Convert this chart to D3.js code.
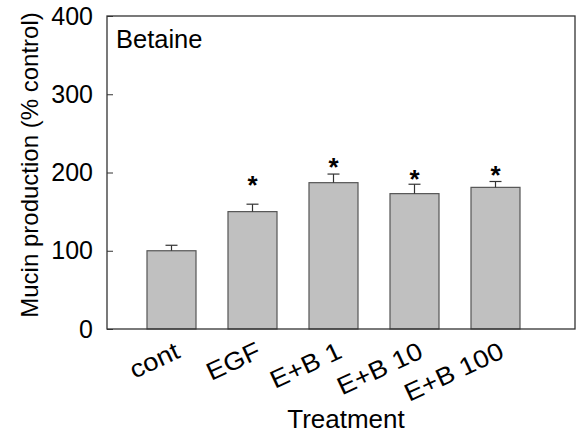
<!DOCTYPE html>
<html>
<head>
<meta charset="utf-8">
<script src="https://cdn.jsdelivr.net/npm/d3@7"></script>
<style>
  body { margin: 0; background: #fff; }
  svg { display: block; font-family: "Liberation Sans", Arial, sans-serif; }
</style>
</head>
<body>
<div id="chart"></div>
<script>
// values
const categories = ["cont", "EGF", "E+B 1", "E+B 10", "E+B 100"]
const means = [100, 150, 187, 173, 181]
const errors = [7, 9.5, 11, 12, 7.5]
// height (in % control) where each significance star sits, null = no star
const starLevels = [null, 189, 212, 197, 202]
const yTicks = [0, 100, 200, 300, 400]

const width = 576
const height = 435
const frame = { left: 107, right: 575, top: 16, bottom: 329 }
const fontFamily = "Liberation Sans, Arial, sans-serif"

const svg = d3.select("#chart").append("svg")
    .attr("width", width)
    .attr("height", height)

const xScale = d3.scaleBand()
    .domain(categories)
    .range([131, 536])
    .paddingInner(0.395)
    .paddingOuter(0.1975)

const yScale = d3.scaleLinear()
    .domain([0, 400])
    .range([frame.bottom, frame.top])

const center = d => xScale(d) + xScale.bandwidth() / 2

// bars
svg.append("g")
  .selectAll("rect")
  .data(categories)
  .join("rect")
    .attr("x", d => xScale(d))
    .attr("y", (d, i) => yScale(means[i]))
    .attr("width", xScale.bandwidth())
    .attr("height", (d, i) => yScale(0) - yScale(means[i]))
    .attr("fill", "#c0c0c0")
    .attr("stroke", "#555")
    .attr("stroke-width", 1.2)

// upper error bars
const errG = svg.append("g")
    .attr("stroke", "#333")
    .attr("stroke-width", 1.2)
categories.forEach((c, i) => {
  const cx = center(c)
  const top = yScale(means[i] + errors[i])
  errG.append("line")
      .attr("x1", cx).attr("x2", cx)
      .attr("y1", yScale(means[i])).attr("y2", top)
  errG.append("line")
      .attr("x1", cx - 6).attr("x2", cx + 6)
      .attr("y1", top).attr("y2", top)
})

// significance stars (glyph centre ~13px above baseline)
svg.append("g")
  .selectAll("text")
  .data(categories.filter((c, i) => starLevels[i] !== null))
  .join("text")
    .attr("x", d => center(d))
    .attr("y", d => yScale(starLevels[categories.indexOf(d)]) + 13)
    .attr("text-anchor", "middle")
    .attr("font-size", 26)
    .attr("font-weight", "bold")
    .attr("fill", "#000")
    .text("*")

// frame
svg.append("rect")
    .attr("x", frame.left)
    .attr("y", frame.top)
    .attr("width", frame.right - frame.left)
    .attr("height", frame.bottom - frame.top)
    .attr("fill", "none")
    .attr("stroke", "#333")
    .attr("stroke-width", 1.3)

// y axis, ticks pointing inward
const yAxis = svg.append("g")
    .attr("transform", `translate(${frame.left},0)`)
    .call(d3.axisLeft(yScale).tickValues(yTicks).tickSize(-6).tickPadding(14))
yAxis.select(".domain").remove()
yAxis.selectAll(".tick line").attr("stroke", "#333")
yAxis.selectAll("text")
    .attr("font-size", 25)
    .attr("fill", "#000")
    .attr("font-family", fontFamily)

// x labels, rotated (slightly wide lettering, like the original)
const xAxis = svg.append("g")
    .attr("transform", `translate(0,${frame.bottom})`)
    .call(d3.axisBottom(xScale).tickSize(0).tickPadding(0))
xAxis.select(".domain").remove()
xAxis.selectAll("text")
    .attr("font-size", 25)
    .attr("fill", "#000")
    .attr("font-family", fontFamily)
    .attr("text-anchor", "end")
    .attr("dy", null)
    .attr("y", 0)
    .attr("transform", "translate(10,28) rotate(-25) scale(1.1,1)")

// titles
svg.append("text")
    .attr("x", 116)
    .attr("y", 48)
    .attr("font-size", 25.5)
    .text("Betaine")

svg.append("text")
    .attr("x", 346)
    .attr("y", 428)
    .attr("text-anchor", "middle")
    .attr("font-size", 26)
    .text("Treatment")

svg.append("text")
    .attr("transform", "translate(38,165) rotate(-90)")
    .attr("text-anchor", "middle")
    .attr("font-size", 24)
    .text("Mucin production (% control)")
</script>
</body>
</html>
